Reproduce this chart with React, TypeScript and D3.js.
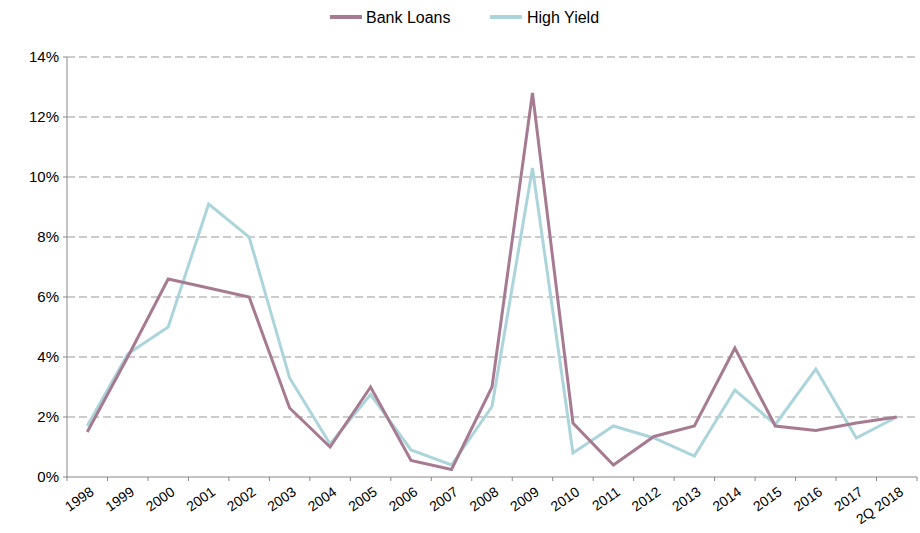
import React from "react";
import * as d3 from "d3";

const categories = ["1998","1999","2000","2001","2002","2003","2004","2005","2006","2007","2008","2009","2010","2011","2012","2013","2014","2015","2016","2017","2Q 2018"];
const bankLoans = [1.5,4.0,6.6,6.3,6.0,2.3,1.0,3.0,0.55,0.25,3.0,12.8,1.8,0.4,1.35,1.7,4.3,1.7,1.55,1.8,2.0];
const highYield = [1.7,4.1,5.0,9.1,8.0,3.3,1.1,2.75,0.9,0.4,2.35,10.3,0.8,1.7,1.3,0.7,2.9,1.75,3.6,1.3,2.0];
const yTicks = [0,2,4,6,8,10,12,14];

export default function App() {
  const W = 920, H = 533;
  const left = 67, right = 917, top = 57, bottom = 477;
  const x = d3.scaleBand<string>().domain(categories).range([left, right]);
  const y = d3.scaleLinear().domain([0, 14]).range([bottom, top]);
  const line = d3.line<number>().x((_, i) => x(categories[i])! + x.bandwidth() / 2).y(d => y(d));
  const font = "Liberation Sans, Arial, sans-serif";
  return (
    <svg width={W} height={H} style={{ position: "absolute", left: 0, top: 0 }} fontFamily={font}>
      {yTicks.map(t => (
        <g key={t}>
          {t > 0 && <line x1={left} x2={right} y1={y(t)} y2={y(t)} stroke="#999" strokeDasharray="8,4" strokeWidth={1} />}
          <text x={left - 8} y={y(t)} dy="0.35em" textAnchor="end" fontSize={15} fill="#000">{t}%</text>
          <line x1={left - 4} x2={left} y1={y(t)} y2={y(t)} stroke="#888" />
        </g>
      ))}
      <line x1={left} x2={left} y1={top} y2={bottom} stroke="#888" />
      <line x1={left} x2={right} y1={bottom} y2={bottom} stroke="#888" />
      {categories.map((c, i) => (
        <g key={c}>
          <line x1={x(c)!} x2={x(c)!} y1={bottom} y2={bottom + 4} stroke="#888" />
          {i === categories.length - 1 && <line x1={right} x2={right} y1={bottom} y2={bottom + 4} stroke="#888" />}
          <text transform={`translate(${x(c)! + x.bandwidth() / 2 + 2},${bottom + 9}) rotate(-35)`} textAnchor="end" dy="0.7em" fontSize={14} fill="#000">{c}</text>
        </g>
      ))}
      <path d={line(highYield)!} fill="none" stroke="#acd5db" strokeWidth={3} />
      <path d={line(bankLoans)!} fill="none" stroke="#a67a91" strokeWidth={3} />
      <line x1={330} x2={362} y1={17} y2={17} stroke="#a67a91" strokeWidth={4} />
      <text x={366} y={17} dy="0.35em" fontSize={16}>Bank Loans</text>
      <line x1={490} x2={522} y1={17} y2={17} stroke="#acd5db" strokeWidth={4} />
      <text x={527} y={17} dy="0.35em" fontSize={16}>High Yield</text>
    </svg>
  );
}
